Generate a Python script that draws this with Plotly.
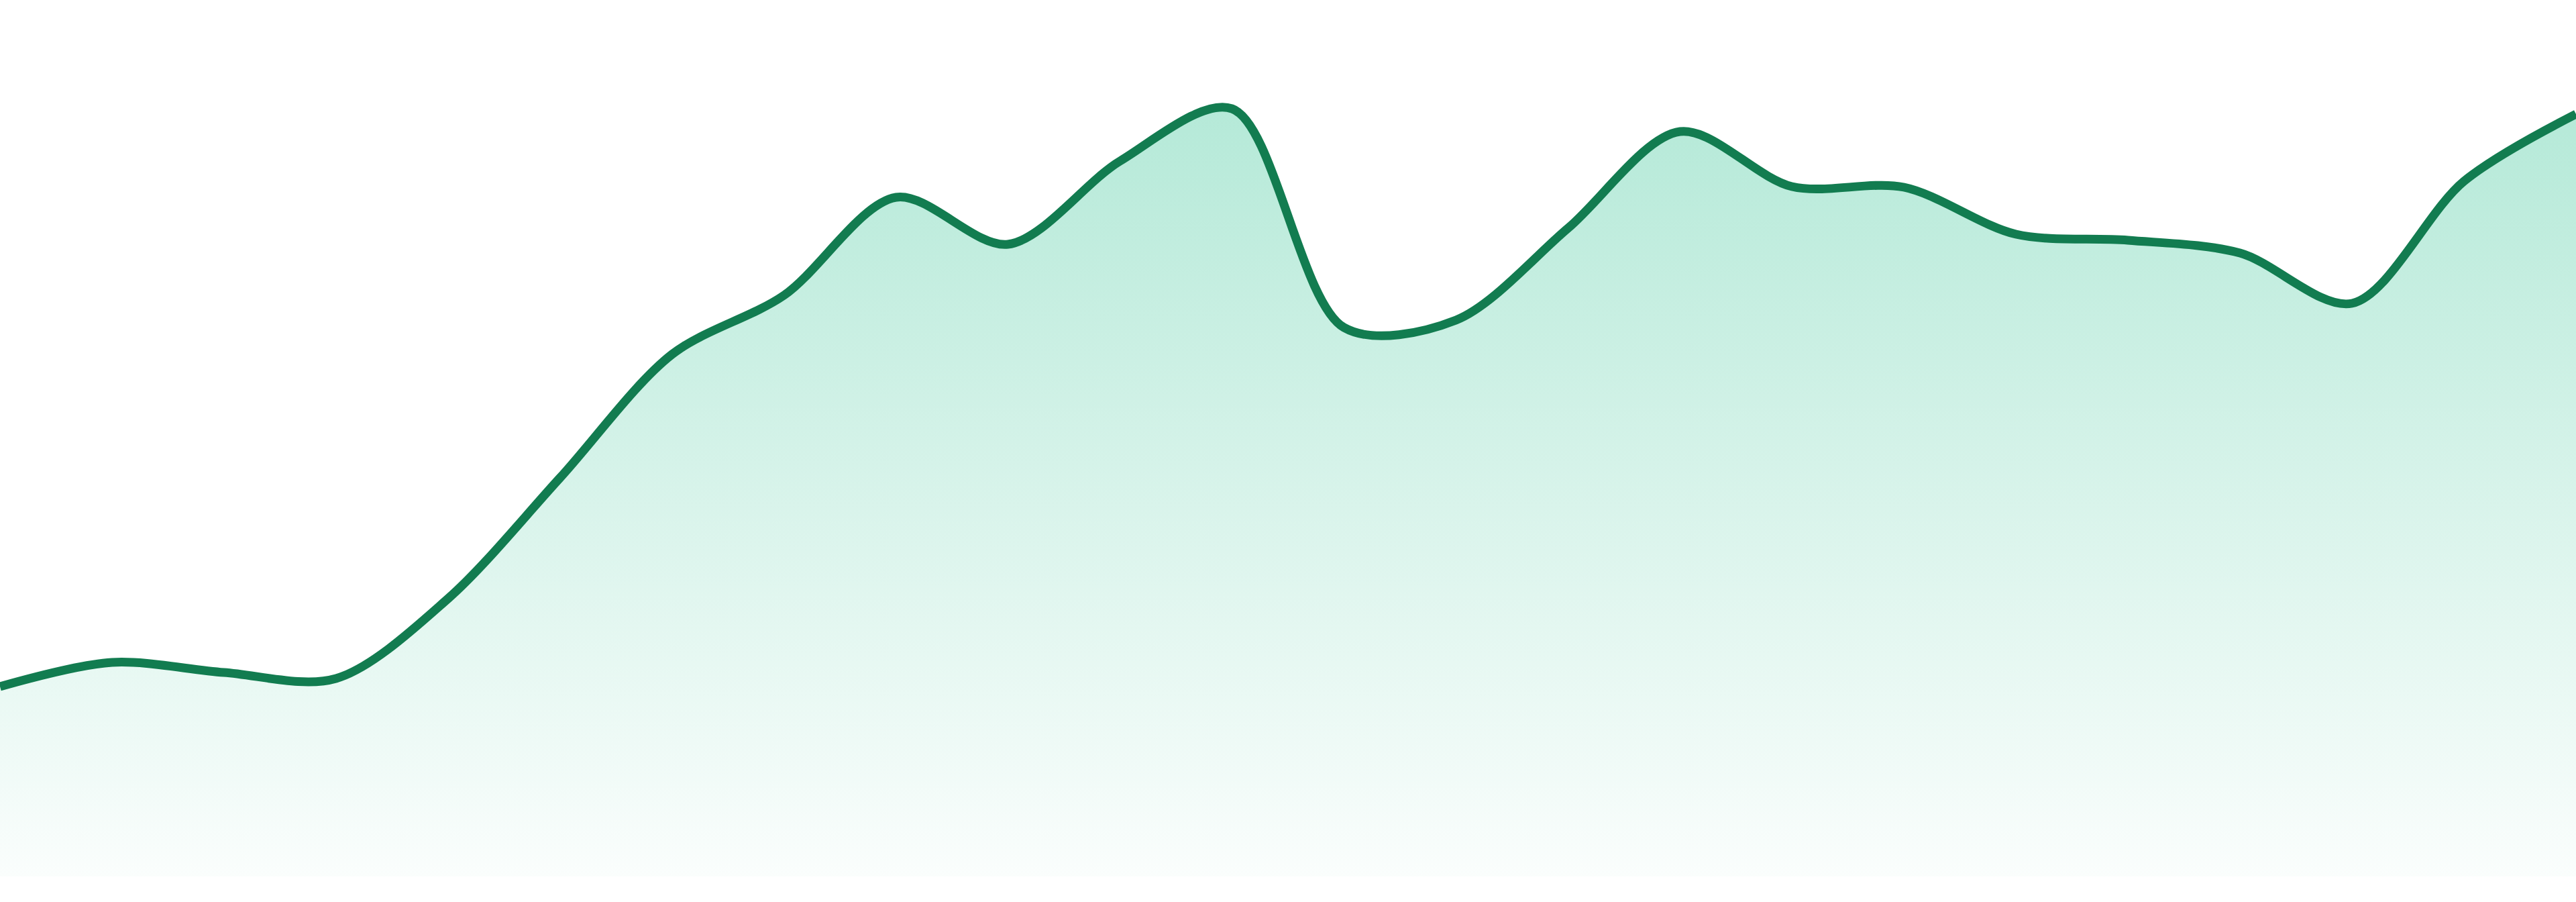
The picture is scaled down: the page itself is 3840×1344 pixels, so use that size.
import plotly.graph_objects as go

# index of each sample (24 evenly spaced points)
x_index = list(range(24))
# series values
values = [28.3, 31.9, 30.4, 29.5, 41.4, 59.4, 77.8, 86.6, 101.2, 94.2,
          106.6, 114.4, 81.8, 82.9, 96.6, 111.0, 102.8, 102.7, 95.7, 94.8,
          92.9, 85.4, 103.6, 113.6]

LINE_COLOR = "rgb(18,124,80)"

fig = go.Figure()
fig.add_trace(go.Scatter(
    x=x_index,
    y=values,
    mode="lines",
    line=dict(color=LINE_COLOR, width=13, shape="spline", smoothing=0.9),
    fill="tozeroy",
    fillgradient=dict(
        type="vertical",
        colorscale=[[0, "rgba(16,185,129,0.02)"], [1, "rgba(16,185,129,0.31)"]],
    ),
    hoverinfo="skip",
    showlegend=False,
))

fig.update_layout(
    width=3840,
    height=1344,
    margin=dict(l=0, r=0, t=0, b=38, pad=0),
    paper_bgcolor="white",
    plot_bgcolor="white",
    xaxis=dict(range=[0, 23], visible=False, fixedrange=True),
    yaxis=dict(range=[0, 130.6], visible=False, fixedrange=True),
)

fig.write_html(
    "out.html",
    config={"displayModeBar": False},
    post_script="document.body.style.margin='0px';",
)
